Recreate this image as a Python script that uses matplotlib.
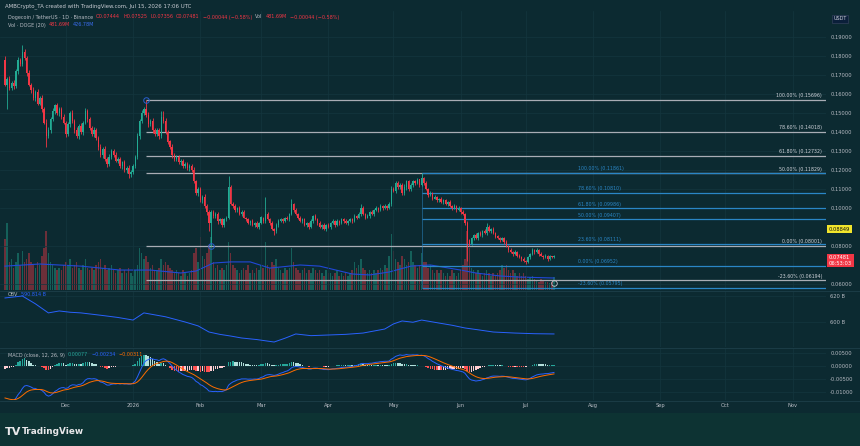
import matplotlib
matplotlib.use("Agg")
import matplotlib.pyplot as plt
import numpy as np

# ---------------- data ----------------
first_open = 0.178
closes = [
    0.165, 0.168, 0.163, 0.166, 0.164, 0.172, 0.178, 0.176, 0.182, 0.179,
    0.171, 0.165, 0.162, 0.158, 0.161, 0.155, 0.158, 0.152, 0.145, 0.138,
    0.141, 0.147, 0.151, 0.154, 0.150, 0.152, 0.148, 0.145, 0.139, 0.144,
    0.150, 0.146, 0.141, 0.138, 0.143, 0.140, 0.145, 0.151, 0.147, 0.142,
    0.139, 0.141, 0.137, 0.132, 0.128, 0.131, 0.126, 0.123, 0.127, 0.130,
    0.128, 0.125, 0.126, 0.122, 0.124, 0.120, 0.121, 0.118, 0.119, 0.122,
    0.127, 0.138, 0.146, 0.150, 0.152, 0.149, 0.144, 0.146, 0.141, 0.139,
    0.141, 0.138, 0.148, 0.146, 0.140, 0.135, 0.132, 0.128, 0.126, 0.127,
    0.124, 0.125, 0.122, 0.123, 0.121, 0.122, 0.120, 0.114, 0.108, 0.110,
    0.104, 0.106, 0.101, 0.098, 0.092, 0.098, 0.096, 0.097, 0.093, 0.094,
    0.091, 0.094, 0.095, 0.111, 0.102, 0.101, 0.099, 0.100, 0.097, 0.098,
    0.095, 0.094, 0.092, 0.093, 0.091, 0.092, 0.090, 0.092,
    0.095, 0.093, 0.097, 0.094, 0.092, 0.089, 0.088, 0.091, 0.093, 0.094,
    0.093, 0.095, 0.094, 0.097, 0.102, 0.099, 0.097, 0.095, 0.093, 0.094,
    0.091, 0.092, 0.090, 0.093, 0.096, 0.094, 0.092, 0.090, 0.091, 0.089,
    0.091, 0.090, 0.092, 0.093, 0.091, 0.093, 0.092, 0.094, 0.093, 0.092,
    0.093, 0.094, 0.093, 0.096, 0.095, 0.097, 0.100, 0.097, 0.095, 0.096,
    0.098, 0.097, 0.099, 0.100, 0.099, 0.101, 0.100, 0.101, 0.100, 0.102,
    0.110, 0.109, 0.113, 0.111, 0.112, 0.108, 0.111, 0.114, 0.110, 0.112,
    0.114, 0.113, 0.115, 0.112, 0.116, 0.113, 0.110, 0.107, 0.108, 0.105,
    0.106, 0.104, 0.105, 0.103, 0.104, 0.102, 0.103, 0.101, 0.100, 0.101,
    0.099, 0.100, 0.098, 0.097, 0.092, 0.083, 0.081, 0.084, 0.086, 0.084,
    0.087, 0.086, 0.088, 0.087, 0.090, 0.088, 0.089, 0.087, 0.085, 0.084,
    0.083, 0.084, 0.082, 0.080, 0.078, 0.077, 0.076, 0.077, 0.075, 0.074,
    0.073, 0.072, 0.0715, 0.074, 0.076, 0.078, 0.077, 0.078, 0.076, 0.075,
    0.074, 0.075, 0.073, 0.0745, 0.07444, 0.07481,
]
# wick lengths in units of 0.0005
up_wick = ["4232323283", "2323232324", "3232322323", "2323232322", "2322323232",
           "2322232322", "2323233232", "2262322322", "2222222322", "2232222222",
           "2221222122", "2121212121", "1212122121", "2121212121", "1212121212",
           "1212121212", "1212121212", "1212121232", "2222322222", "2121212121",
           "1212121212", "1212121212", "1212121212", "1212121212", "1212121212", "1212"]
low_wick = ["2322323232", "3232322325", "2323232232", "3232323232", "2323232322",
            "2232323232", "2232223232", "2323232322", "2322232223", "2323222232",
            "2222122212", "1212121212", "2121222121", "1212121212", "2121212121",
            "2121212121", "2121212121", "2121212121", "2222232222", "1212121212",
            "2121212121", "2121212121", "2121212121", "2121212121", "2121212121", "2121"]
high_marks = {8: 0.186, 65: 0.15696, 73: 0.151, 103: 0.117, 120: 0.106, 132: 0.105,
              164: 0.102, 192: 0.11861, 222: 0.092, 243: 0.079, 253: 0.07525}
low_marks = {1: 0.152, 19: 0.132, 57: 0.116, 94: 0.088, 95: 0.08001, 124: 0.086,
             213: 0.072, 240: 0.0705, 253: 0.07356}

volumes_m = [
    1800, 2400, 1000, 1100, 800, 1000, 1300, 900, 1400, 1000,
    1100, 1300, 1000, 900, 800, 1000, 900, 1200, 1500, 2100,
    1300, 1000, 900, 800, 700, 800, 700, 900, 1000, 900,
    1100, 800, 900, 1000, 800, 700, 900, 1100, 800, 700,
    800, 700, 900, 1000, 1100, 800, 900, 700, 800, 900,
    700, 600, 700, 800, 600, 700, 600, 800, 600, 500,
    700, 900, 1500, 1300, 1100, 1200, 1000, 800, 900, 700,
    700, 800, 1100, 900, 1000, 900, 800, 700, 600, 700,
    600, 500, 700, 600, 500, 600, 700, 1300, 1500, 1000,
    1900, 1200, 1100, 1300, 1600, 1900, 1000, 800, 900, 700,
    800, 700, 900, 1700, 1300, 900, 800, 700, 600, 700,
    800, 700, 900, 600, 700, 600, 800, 700, 900, 800,
    1700, 900, 800, 1000, 900, 1100, 800, 700, 600, 800,
    700, 800, 1500, 1000, 800, 700, 600, 700, 800, 600,
    700, 600, 800, 700, 600, 700, 600, 500, 700, 600,
    600, 500, 600, 700, 500, 600, 500, 600, 500, 600,
    700, 1000, 800, 900, 1100, 800, 700, 600, 700, 600,
    700, 600, 700, 800, 700, 900, 800, 1200, 2000, 1400,
    1100, 1000, 900, 1200, 1100, 900, 1000, 1400, 1000, 900,
    800, 900, 1300, 1000, 1000, 800, 900, 700, 600, 700,
    600, 700, 600, 500, 600, 500, 700, 600, 500, 600,
    700, 900, 1100, 2100, 1500, 800, 700, 600, 700, 600,
    500, 600, 700, 600, 500, 600, 500, 600, 700, 900,
    800, 900, 700, 600, 700, 600, 500, 600, 500, 600,
    500, 400, 450, 500, 400, 350, 300, 400, 350, 300,
    300, 250, 280, 480,
]
vol_ma_days = [0, 16, 35, 53, 67, 81, 88, 96, 104, 113, 122, 136, 145, 160, 168, 177,
               187, 196, 210, 217, 228, 237, 253]
vol_ma_vals = [850, 925, 850, 710, 710, 605, 675, 960, 1000, 1000, 780, 890, 850, 570,
               535, 640, 850, 890, 710, 605, 500, 460, 427]

obv_days = [0, 8, 14, 20, 25, 30, 35, 45, 52, 59, 64, 69, 74, 83, 89, 94, 99, 104, 109,
            116, 124, 129, 134, 141, 149, 157, 165, 175, 179, 183, 188, 192, 200, 206,
            212, 218, 225, 235, 244, 253]
obv_vals = [618.5, 620.0, 614.0, 607.0, 608.5, 607.5, 607.0, 605.0, 603.5, 601.5,
            607.0, 605.5, 604.0, 600.0, 597.0, 592.3, 590.5, 589.2, 587.7, 586.5,
            584.6, 587.5, 590.8, 589.5, 590.0, 590.5, 591.5, 594.6, 598.5, 600.8,
            599.8, 601.5, 599.2, 597.5, 595.4, 594.0, 592.3, 591.5, 591.0, 590.8]

macd_seed_ema12 = 0.1830
macd_seed_ema26 = 0.1960
macd_seed_signal = -0.0120

gray_fib_levels = [0.15696, 0.14018, 0.12732, 0.11829, 0.08001, 0.06194]
gray_fib_labels = ["100.00% (0.15696)", "78.60% (0.14018)", "61.80% (0.12732)",
                   "50.00% (0.11829)", "0.00% (0.08001)", "-23.60% (0.06194)"]
blue_fib_levels = [0.11861, 0.10810, 0.09986, 0.09407, 0.08111, 0.06952, 0.05795]
blue_fib_labels = ["100.00% (0.11861)", "78.60% (0.10810)", "61.80% (0.09986)",
                   "50.00% (0.09407)", "23.60% (0.08111)", "0.00% (0.06952)",
                   "-23.60% (0.05795)"]
gray_fib_start = 65
blue_fib_start = 192

month_days = [28, 59, 90, 118, 149, 179, 210, 240, 271, 302, 332, 363]
month_labels = ["Dec", "2026", "Feb", "Mar", "Apr", "May", "Jun", "Jul", "Aug", "Sep", "Oct", "Nov"]
price_ticks = [0.06, 0.08, 0.10, 0.11, 0.12, 0.13, 0.14, 0.15, 0.16, 0.17, 0.18, 0.19]
obv_ticks = [600, 620]
macd_ticks = [-0.01, -0.005, 0.0, 0.005]

# ---------------- style ----------------
W, H = 860, 446
BG = "#0c2a31"
FOOT = "#0d3333"
TXT = "#b8bcc4"
UP = "#22ab94"
DN = "#f23645"
BLUE = "#2962ff"
ORANGE = "#ff6d00"
GRAYFIB = "#a9adb5"
BLUEFIB = "#2a86c6"
FS = 3.55

def day_of_px(x):
    return (x - 5) / 2.17

def price_of_py(y):
    return 0.08 + (246 - y) / 1900.0

def rect(y_top, y_bot):
    return [0, 1 - y_bot / H, 826 / W, (y_bot - y_top) / H]

def ftext(x, y, s, **kw):
    kw.setdefault("va", "center")
    kw.setdefault("fontsize", FS)
    kw.setdefault("color", TXT)
    return fig.text(x / W, 1 - y / H, s, **kw)

def chain(x, y, parts, gap=3.0, **kw):
    r = fig.canvas.get_renderer()
    for s, col in parts:
        t = ftext(x, y, s, color=col, **kw)
        x += t.get_window_extent(renderer=r).width + gap

fig = plt.figure(figsize=(W / 100, H / 100), dpi=100)
fig.patch.set_facecolor(FOOT)
bgax = fig.add_axes([0, 1 - 413 / H, 1, 413 / H])
bgax.set_facecolor(BG)
bgax.set_xticks([]); bgax.set_yticks([])
for s in bgax.spines.values():
    s.set_visible(False)

XL = (day_of_px(0), day_of_px(826))

def style(a):
    a.set_xlim(*XL)
    for s in a.spines.values():
        s.set_visible(False)
    a.tick_params(axis="both", length=0, labelsize=3.7, labelcolor=TXT)
    a.set_xticks(month_days)
    a.grid(True, color="#14363e", lw=0.5)
    a.set_axisbelow(True)

# ---------------- candles data ----------------
n = len(closes)
days = np.arange(n)
c = np.array(closes)
o = np.r_[first_open, c[:-1]]
uw = np.array([int(ch) for ch in "".join(up_wick)]) * 0.0005
lw = np.array([int(ch) for ch in "".join(low_wick)]) * 0.0005
hi = np.maximum(o, c) + uw
lo = np.minimum(o, c) - lw
for k, v in high_marks.items():
    hi[k] = v
for k, v in low_marks.items():
    lo[k] = v
up = c >= o
cols = np.where(up, UP, DN)

# ---------------- volume (behind main) ----------------
axv = fig.add_axes(rect(11, 290))
axv.set_facecolor("none")
style(axv)
axv.grid(False)
axv.set_ylim(0, 279 * 35.6)
axv.bar(days, volumes_m, width=0.7, color=cols, alpha=0.42, lw=0)
axv.plot(vol_ma_days, vol_ma_vals, color="#2148d8", lw=0.8)
axv.set_yticks([]); axv.set_xticklabels([])

# ---------------- main price pane ----------------
ax = fig.add_axes(rect(11, 290))
ax.set_facecolor("none")
style(ax)
ax.set_ylim(price_of_py(290), price_of_py(11))
ax.vlines(days, lo, hi, colors=cols, lw=0.6, zorder=3)
body = np.maximum(np.abs(c - o), 0.0003)
ax.bar(days, body, bottom=np.minimum(o, c), width=0.62, color=cols, lw=0, zorder=4)
ax.yaxis.tick_right()
ax.set_yticks(price_ticks)
ax.set_yticklabels([f"{v:.5f}" for v in price_ticks])
ax.tick_params(axis="y", pad=3)
ax.set_xticklabels([])

xr = day_of_px(826)
for lev, lab in zip(gray_fib_levels, gray_fib_labels):
    ax.hlines(lev, gray_fib_start, xr, color=GRAYFIB, lw=0.9, zorder=2)
    ax.text(day_of_px(822), lev + 0.0009, lab, ha="right", va="bottom", fontsize=3.4, color="#d0d3da", zorder=6)
for lev, lab in zip(blue_fib_levels, blue_fib_labels):
    ax.hlines(lev, blue_fib_start, xr, color=BLUEFIB, lw=0.9, zorder=2)
    ax.text(day_of_px(578), lev + 0.0009, lab, ha="left", va="bottom", fontsize=3.4, color=BLUEFIB, zorder=6)
ax.vlines(blue_fib_start, blue_fib_levels[-1], blue_fib_levels[0], color=BLUEFIB, lw=0.6, alpha=0.6, zorder=2)
ax.plot([gray_fib_start], [gray_fib_levels[0]], "o", ms=4, mfc="none", mec="#2a5fd0", mew=0.7, zorder=7)
ax.plot([95], [gray_fib_levels[4]], "o", ms=4, mfc="none", mec="#2a5fd0", mew=0.7, zorder=7)
ax.plot([253], [price_of_py(283)], "o", ms=4, mfc="none", mec="#c8c8d0", mew=0.6, zorder=7)

# ---------------- OBV pane ----------------
axo = fig.add_axes(rect(291, 347))
axo.set_facecolor("none")
style(axo)
axo.set_ylim(620 - (347 - 296) * 20 / 26, 620 + (296 - 291) * 20 / 26)
axo.plot(obv_days, obv_vals, color=BLUE, lw=0.7)
axo.yaxis.tick_right()
axo.set_yticks(obv_ticks)
axo.set_yticklabels([f"{v} B" for v in obv_ticks])
axo.tick_params(axis="y", pad=3)
axo.set_xticklabels([])

# ---------------- MACD pane (12/26/9 of the closes above) ----------------
ema12, ema26, sig = macd_seed_ema12, macd_seed_ema26, macd_seed_signal
macd_v, sig_v = [], []
for price in closes:
    ema12 += (price - ema12) * 2 / 13
    ema26 += (price - ema26) * 2 / 27
    m = ema12 - ema26
    sig += (m - sig) * 2 / 10
    macd_v.append(m); sig_v.append(sig)
macd_v = np.array(macd_v); sig_v = np.array(sig_v)
hist = macd_v - sig_v
prev = np.r_[hist[0], hist[:-1]]
hcol = np.where(hist >= 0, np.where(hist >= prev, "#26a69a", "#b2dfdb"),
                np.where(hist >= prev, "#ffcdd2", "#ff5252"))

axm = fig.add_axes(rect(348, 400))
axm.set_facecolor("none")
style(axm)
axm.set_ylim(-(400 - 366) * 0.005 / 13, (366 - 348) * 0.005 / 13)
axm.bar(days, hist, width=0.7, color=hcol, lw=0)
axm.plot(days, macd_v, color=BLUE, lw=0.7)
axm.plot(days, sig_v, color=ORANGE, lw=0.7)
axm.yaxis.tick_right()
axm.set_yticks(macd_ticks)
axm.set_yticklabels([f"{v:.5f}" for v in macd_ticks])
axm.tick_params(axis="y", pad=3)
axm.set_xticklabels(month_labels)
axm.tick_params(axis="x", pad=2.5)

for yy in (290.5, 347.5, 400.5):
    fig.add_artist(plt.Line2D([0, 1], [1 - yy / H] * 2, color="#1d3f49", lw=0.6))

# ---------------- legends / labels ----------------
ftext(5, 6, "AMBCrypto_TA created with TradingView.com, Jul 15, 2026 17:06 UTC", fontsize=3.9, color="#c9ccd3")
chain(8, 17, [("Dogecoin / TetherUS · 1D · Binance", TXT), ("O0.07444", DN), ("H0.07525", DN),
              ("L0.07356", DN), ("C0.07481", DN), ("−0.00044 (−0.58%)", DN),
              ("Vol", TXT), ("481.69M", DN), ("−0.00044 (−0.58%)", DN)])
chain(8, 25, [("Vol · DOGE (20)", TXT), ("481.69M", DN), ("426.78M", "#3a6df0")])
chain(8, 295, [("OBV", TXT), ("590.814 B", BLUE)])
chain(8, 355, [("MACD (close, 12, 26, 9)", TXT), ("0.00077", "#26a69a"),
               ("−0.00234", BLUE), ("−0.00311", ORANGE)])

ftext(840, 19, "USDT", ha="center", color="#d0d3da",
      bbox=dict(boxstyle="square,pad=0.35", fc="#0b1f3a", ec="#33405a", lw=0.5))
ftext(829, 229, "0.08849", color="#111111", fontsize=3.7,
      bbox=dict(boxstyle="square,pad=0.3", fc="#f2e52c", ec="none"))
ftext(829, 260.5, "0.07481\n06:53:03", color="white", linespacing=1.1, fontsize=3.7,
      bbox=dict(boxstyle="square,pad=0.3", fc=DN, ec="none"))

ftext(5, 432, "TV", fontsize=8, fontweight="bold", color="#e8e8ea")
ftext(22, 432, "TradingView", fontsize=6.4, fontweight="bold", color="#e8e8ea")

fig.savefig("out.png", dpi=100, facecolor=fig.get_facecolor())
